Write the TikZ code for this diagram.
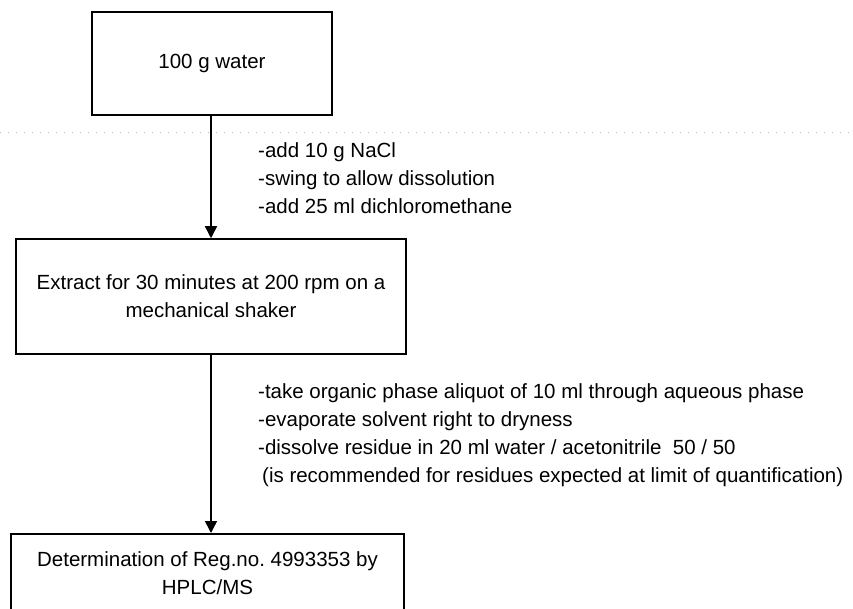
\documentclass[tikz,border=0pt]{standalone}
\usepackage{fontspec}
\setmainfont{Liberation Sans}
\usetikzlibrary{arrows.meta}
\frenchspacing
\begin{document}
\begin{tikzpicture}[x=1pt,y=-1pt,
  box/.style={draw, line width=1.5pt, inner sep=0pt},
  txt/.style={font=\fontsize{20.5}{28}\selectfont, inner sep=0pt},
  lbl/.style={txt, anchor=base west},
  arr/.style={line width=1.5pt, -{Triangle[length=12pt,width=12pt]}},
  sep/.style={gray!55, line width=1pt, dash pattern=on 1pt off 7pt}]
\useasboundingbox (0,0) rectangle (853,609);
\fill[white] (0,0) rectangle (853,609);
\clip (0,0) rectangle (853,609);
% separator
\coordinate (dl) at (0,133);
\coordinate (dr) at (853,133);
\draw[sep] (dl) -- (dr);
% boxes
\node[box, txt, minimum width=240, minimum height=103] (water) at (212,63.5) {100 g water};
\node[box, txt, align=center, minimum width=390, minimum height=115] (extract) at (211,296.5) {Extract for 30 minutes at 200 rpm on a\\mechanical shaker};
\node[box, minimum width=393, minimum height=120, anchor=north] (hplc) at (207.5,533) {};
\node[txt, align=center, anchor=north] (hplct) at (207.5,551) {Determination of Reg.no. 4993353 by\\HPLC/MS};
% arrows
\draw[arr] (water.south -| extract.north) -- (extract.north);
\draw[arr] (extract.south) -- (extract.south |- hplc.north);
% labels
\node[lbl] (add1) at (258,158) {-add 10 g NaCl};
\node[lbl] (swing) at (258,186) {-swing to allow dissolution};
\node[lbl] (add2) at (258,214) {-add 25 ml dichloromethane};
\node[lbl] (take) at (258,398) {-take organic phase aliquot of 10 ml through aqueous phase};
\node[lbl] (evap) at (258,426) {-evaporate solvent right to dryness};
\node[lbl] (diss) at (258,454) {-dissolve residue in 20 ml water / acetonitrile\ \ 50 / 50};
\node[lbl] (note) at (262,482) {(is recommended for residues expected at limit of quantification)};
\end{tikzpicture}
\end{document}
